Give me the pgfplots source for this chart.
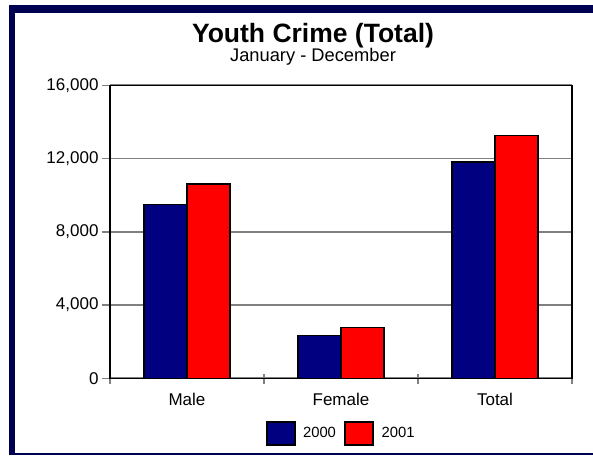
\documentclass[border=0pt]{standalone}
\usepackage{pgfplots}
\pgfplotsset{compat=1.18}
\usepackage{fontspec}
\setmainfont{Liberation Sans}
\definecolor{framec}{RGB}{0,0,80}
\definecolor{navybar}{RGB}{0,0,128}
\definecolor{redbar}{RGB}{255,0,0}
\definecolor{gridc}{RGB}{128,128,128}
\begin{document}
\begin{tikzpicture}
\useasboundingbox (0pt,0pt) rectangle (593pt,-455pt);
\fill[white] (0pt,0pt) rectangle (593pt,-455pt);
\fill[framec] (9pt,-5pt) rectangle (593pt,-12.5pt);
\fill[framec] (9pt,-5pt) rectangle (14.5pt,-455pt);
\fill[framec] (9pt,-453.3pt) rectangle (593pt,-455pt);
\node[anchor=base, font=\fontsize{26.5}{30}\selectfont\bfseries] at (313pt,-42pt) {Youth Crime (Total)};
\node[anchor=base, font=\fontsize{18.3}{21}\selectfont] at (313pt,-61pt) {January - December};
\begin{axis}[
  at={(110pt,-378.3pt)}, anchor=south west,
  width=462pt, height=293pt, scale only axis,
  xmin=-0.5, xmax=2.5, ymin=0, ymax=16000,
  axis line style={black, line width=1.6pt},
  xtick={0,1,2}, xticklabels={Male,Female,Total},
  minor xtick={-0.5,0.5,1.5,2.5},
  ytick={0,4000,8000,12000,16000},
  scaled y ticks=false,
  /pgf/number format/.cd, 1000 sep={,}, assume math mode=true, /pgfplots/.cd,
  tick pos=left,
  tick align=outside,
  major tick length=8pt,
  minor tick length=10pt,
  x tick style={draw=none},
  minor x tick style={draw=gridc, line width=1.3pt, yshift=4pt},
  y tick style={draw=gridc, line width=1.5pt},
  ymajorgrids=true,
  major grid style={draw=gridc, line width=1.8pt},
  ticklabel style={font=\fontsize{17}{20}\selectfont},
  xticklabel style={yshift=-3pt},
  legend style={draw=none, at={(0.5005,-0.145)}, anchor=north, inner sep=0pt,
    legend columns=-1, font=\fontsize{14.8}{18}\selectfont,
    /tikz/every odd column/.append style={column sep=5.5pt},
    /tikz/every even column/.append style={column sep=6.5pt}},
  legend image code/.code={\draw[#1, draw=black, line width=1.6pt] (0pt,-11.5pt) rectangle (28pt,11.5pt);},
]
\addplot[ybar, bar width=0.28, bar shift=-0.14, fill=navybar, draw=black, line width=1.6pt]
  coordinates {(0,9500) (1,2330) (2,11800)};
\addplot[ybar, bar width=0.28, bar shift=0.14, fill=redbar, draw=black, line width=1.6pt]
  coordinates {(0,10600) (1,2770) (2,13250)};
\legend{2000,2001}
\end{axis}
\end{tikzpicture}
\end{document}
